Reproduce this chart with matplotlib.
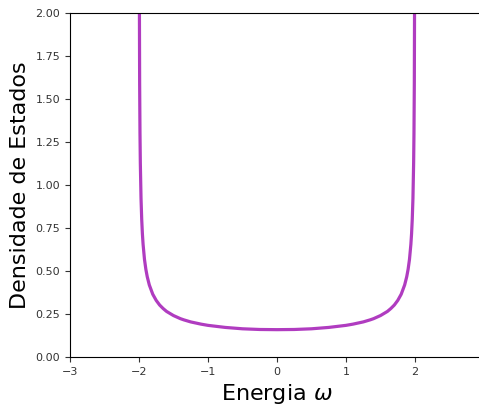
import matplotlib
matplotlib.use("Agg")
import matplotlib.pyplot as plt

# Density of states of the 1D tight-binding chain (hopping t = 1)
energia = [-1.999, -1.995, -1.99, -1.985, -1.98, -1.97, -1.96, -1.95, -1.94,
           -1.92, -1.90, -1.88, -1.85, -1.80, -1.75, -1.70, -1.65, -1.60,
           -1.50, -1.40, -1.35, -1.25, -1.10, -1.00, -0.75, -0.50, -0.25,
           0.00,
           0.25, 0.50, 0.75, 1.00, 1.10, 1.25, 1.35, 1.40, 1.50, 1.60, 1.65,
           1.70, 1.75, 1.80, 1.85, 1.88, 1.90, 1.92, 1.94, 1.95, 1.96, 1.97,
           1.98, 1.985, 1.99, 1.995, 1.999]
densidade = [5.03, 2.252, 1.594, 1.302, 1.128, 0.922, 0.800, 0.716, 0.655,
             0.568, 0.510, 0.467, 0.419, 0.365, 0.329, 0.302, 0.282, 0.265,
             0.241, 0.223, 0.216, 0.204, 0.191, 0.184, 0.172, 0.164, 0.160,
             0.159,
             0.160, 0.164, 0.172, 0.184, 0.191, 0.204, 0.216, 0.223, 0.241,
             0.265, 0.282, 0.302, 0.329, 0.365, 0.419, 0.467, 0.510, 0.568,
             0.655, 0.716, 0.800, 0.922, 1.128, 1.302, 1.594, 2.252, 5.03]

xticks = [-3, -2, -1, 0, 1, 2, 3]
yticks = [0.00, 0.25, 0.50, 0.75, 1.00, 1.25, 1.50, 1.75, 2.00]

fig = plt.figure(figsize=(4.79, 4.05), dpi=100)
ax = fig.add_axes([0.146, 0.1185, 0.8645, 0.8495])

ax.plot(energia, densidade, color="#b03cc0", linewidth=2.3)

ax.set_xlim(-3, 3)
ax.set_ylim(0, 2)
ax.set_xticks(xticks)
ax.set_yticks(yticks)
ax.set_yticklabels([f"{v:.2f}" for v in yticks])
ax.tick_params(labelsize=8, colors="#333333", length=3.5)

ax.set_xlabel("Energia $\\omega$", fontsize=16)
ax.set_ylabel("Densidade de Estados", fontsize=16)

fig.savefig("out.png", dpi=100)
